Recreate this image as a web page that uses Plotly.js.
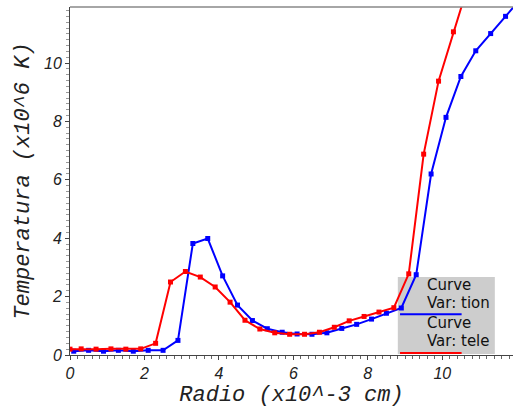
<!DOCTYPE html>
<html>
<head>
<meta charset="utf-8">
<script src="https://cdn.plot.ly/plotly-3.0.1.min.js"></script>
<style>html,body{margin:0;padding:0;background:#fff}#chart{width:513px;height:410px}</style>
</head>
<body>
<div id="chart"></div>
<script>
// Blue curve: "Var: tion"
const tionX = [0.1, 0.5, 0.9, 1.3, 1.7, 2.1, 2.5, 2.9, 3.3, 3.7, 4.1, 4.5, 4.9, 5.3, 5.7, 6.1, 6.5, 6.9, 7.3, 7.7, 8.1, 8.5, 8.9, 9.3, 9.7, 10.1, 10.5, 10.9, 11.3, 11.7, 12.1];
const tionY = [0.13, 0.16, 0.13, 0.16, 0.13, 0.16, 0.16, 0.50, 3.82, 3.99, 2.71, 1.71, 1.18, 0.90, 0.78, 0.72, 0.71, 0.76, 0.91, 1.05, 1.23, 1.43, 1.61, 2.75, 6.20, 8.14, 9.54, 10.42, 11.01, 11.60, 12.19];
// Red curve: "Var: tele"
const teleX = [0.0, 0.3, 0.7, 1.1, 1.5, 1.9, 2.3, 2.7, 3.1, 3.5, 3.9, 4.3, 4.7, 5.1, 5.5, 5.9, 6.3, 6.7, 7.1, 7.5, 7.9, 8.3, 8.7, 9.1, 9.5, 9.9, 10.3, 10.7];
const teleY = [0.20, 0.21, 0.20, 0.21, 0.20, 0.21, 0.40, 2.50, 2.86, 2.67, 2.33, 1.81, 1.19, 0.89, 0.76, 0.71, 0.71, 0.78, 0.95, 1.17, 1.32, 1.47, 1.62, 2.78, 6.88, 9.38, 11.07, 12.69];

const seriesNames = ["Var: tion", "Var: tele"];
const seriesColors = ["#0000ff", "#ff0000"];
const xTickVals = [0, 2, 4, 6, 8, 10];
const yTickVals = [0, 2, 4, 6, 8, 10];

const traces = [
  {x: tionX, y: tionY, name: seriesNames[0], mode: 'lines+markers', type: 'scatter',
   line: {color: seriesColors[0], width: 2}, marker: {color: seriesColors[0], size: 5, symbol: 'square'}},
  {x: teleX, y: teleY, name: seriesNames[1], mode: 'lines+markers', type: 'scatter',
   line: {color: seriesColors[1], width: 2}, marker: {color: seriesColors[1], size: 5, symbol: 'square'}}
];

const tickFont = {family: 'Liberation Sans, Arial, sans-serif', size: 16, color: '#222', style: 'italic'};
const titleFont = {family: 'Liberation Mono, Courier New, monospace', size: 22, color: '#222', style: 'italic'};
const legFont = {family: 'DejaVu Sans, sans-serif', size: 15, color: '#111'};

const layout = {
  width: 513, height: 410,
  margin: {l: 70, r: 0, t: 7, b: 55},
  paper_bgcolor: '#fff', plot_bgcolor: '#fff',
  showlegend: false,
  xaxis: {
    range: [0, 11.9], tickvals: xTickVals, ticks: 'outside', ticklen: 4, tickcolor: '#444',
    showline: true, linecolor: '#444', linewidth: 1, mirror: false, showgrid: false, zeroline: false,
    tickfont: tickFont,
    minor: {dtick: 0.2, ticks: 'outside', ticklen: 3, tickcolor: '#666', showgrid: false},
    title: {text: 'Radio (x10^-3 cm)', font: titleFont, standoff: 4}
  },
  yaxis: {
    range: [0, 11.92], tickvals: yTickVals, ticks: 'outside', ticklen: 4, tickcolor: '#444',
    showline: true, linecolor: '#444', linewidth: 1, showgrid: false, zeroline: false,
    tickfont: tickFont,
    minor: {dtick: 0.2, ticks: 'outside', ticklen: 3, tickcolor: '#999', showgrid: false},
    title: {text: 'Temperatura (x10^6 K)', font: titleFont, standoff: 8}
  },
  shapes: [
    {type: 'line', xref: 'paper', yref: 'paper', x0: 0, x1: 1, y0: 1, y1: 1, line: {color: '#888', width: 1.5}},
    {type: 'rect', xref: 'paper', yref: 'paper', x0: 0.740, x1: 0.959, y0: 0.003, y1: 0.224,
     fillcolor: '#cdcdcd', line: {width: 0}, layer: 'below'},
    {type: 'line', xref: 'paper', yref: 'paper', x0: 0.745, x1: 0.884, y0: 0.117, y1: 0.117, line: {color: seriesColors[0], width: 2}},
    {type: 'line', xref: 'paper', yref: 'paper', x0: 0.745, x1: 0.884, y0: 0.006, y1: 0.006, line: {color: seriesColors[1], width: 2}}
  ],
  annotations: [
    {xref: 'paper', yref: 'paper', x: 0.804, y: 0.201, text: 'Curve', showarrow: false, xanchor: 'left', yanchor: 'middle', borderpad: 0, font: legFont},
    {xref: 'paper', yref: 'paper', x: 0.804, y: 0.149, text: seriesNames[0], showarrow: false, xanchor: 'left', yanchor: 'middle', borderpad: 0, font: legFont},
    {xref: 'paper', yref: 'paper', x: 0.804, y: 0.092, text: 'Curve', showarrow: false, xanchor: 'left', yanchor: 'middle', borderpad: 0, font: legFont},
    {xref: 'paper', yref: 'paper', x: 0.804, y: 0.039, text: seriesNames[1], showarrow: false, xanchor: 'left', yanchor: 'middle', borderpad: 0, font: legFont}
  ]
};

Plotly.newPlot('chart', traces, layout, {displayModeBar: false, staticPlot: true});
</script>
</body>
</html>
